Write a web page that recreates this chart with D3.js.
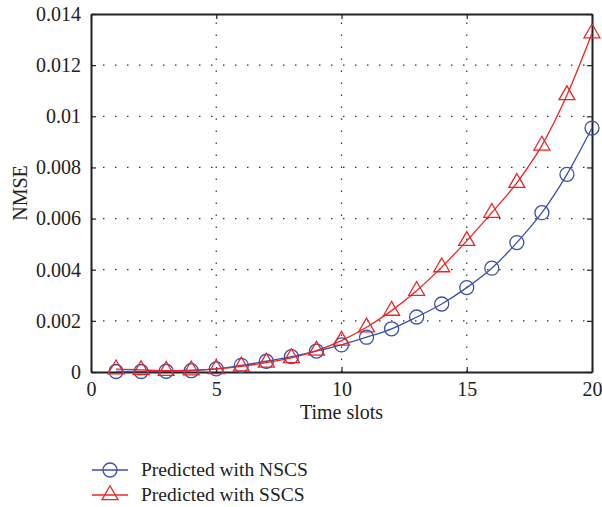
<!DOCTYPE html>
<html>
<head>
<meta charset="utf-8">
<script src="https://cdn.jsdelivr.net/npm/d3@7"></script>
<style>
  body { margin: 0; background: #fff; }
  text { font-family: "Liberation Serif", "DejaVu Serif", serif; fill: #222; }
</style>
</head>
<body>
<svg id="chart" width="602" height="507"></svg>
<script>
const timeSlots = d3.range(1, 21);
const nscs = [0.00002, 0.00002, 0.00003, 0.00005, 0.00012, 0.00026, 0.00042, 0.0006, 0.00082, 0.00106,
  0.00136, 0.00169, 0.00215, 0.00266, 0.0033, 0.00406, 0.00506, 0.00623, 0.00773, 0.00954];
const sscs = [0.00011, 0.00008, 0.00005, 0.00007, 0.00012, 0.00022, 0.00037, 0.00055, 0.00084, 0.00123,
  0.00175, 0.0024, 0.00318, 0.0041, 0.00513, 0.00623, 0.0074, 0.00886, 0.01083, 0.01325];
const xTicks = [0, 5, 10, 15, 20];
const yTicks = [0, 0.002, 0.004, 0.006, 0.008, 0.01, 0.012, 0.014];
const seriesNames = ["Predicted with NSCS", "Predicted with SSCS"];

const margin = { top: 14, right: 10, bottom: 135, left: 91 };
const svg = d3.select("#chart");
const width = 602, height = 507;

const x = d3.scaleLinear().domain([0, 20]).range([margin.left, width - margin.right]);
const y = d3.scaleLinear().domain([0, 0.014]).range([height - margin.bottom, margin.top]);

const blue = "#3b50a8";
const red = "#ee2424";

// grid
const grid = svg.append("g");
grid.selectAll(".gx").data(xTicks.slice(1, -1)).enter().append("line")
  .attr("x1", d => x(d)).attr("x2", d => x(d))
  .attr("y1", y(0)).attr("y2", y(0.014))
  .attr("stroke", "#333").attr("stroke-width", 1.2).attr("stroke-dasharray", "1.5,10.5");
grid.selectAll(".gy").data(yTicks.slice(1, -1)).enter().append("line")
  .attr("x1", x(0)).attr("x2", x(20))
  .attr("y1", d => y(d)).attr("y2", d => y(d))
  .attr("stroke", "#333").attr("stroke-width", 1.2).attr("stroke-dasharray", "1.5,10.5");

// axes with inward ticks
const fmt = d => d === 0 ? "0" : String(+d.toFixed(3));
const xAxis = svg.append("g").attr("transform", `translate(0,${y(0)})`)
  .call(d3.axisBottom(x).tickValues(xTicks).tickSizeInner(-5).tickSizeOuter(0).tickPadding(10));
const yAxis = svg.append("g").attr("transform", `translate(${x(0)},0)`)
  .call(d3.axisLeft(y).tickValues(yTicks).tickFormat(fmt).tickSizeInner(-5).tickSizeOuter(0).tickPadding(10));
const xTop = svg.append("g").attr("transform", `translate(0,${y(0.014)})`)
  .call(d3.axisTop(x).tickValues(xTicks).tickSizeInner(-5).tickSizeOuter(0).tickFormat(""));
const yRight = svg.append("g").attr("transform", `translate(${x(20)},0)`)
  .call(d3.axisRight(y).tickValues(yTicks).tickSizeInner(-5).tickSizeOuter(0).tickFormat(""));

[xAxis, yAxis, xTop, yRight].forEach(g => {
  g.select(".domain").attr("stroke", "#222").attr("stroke-width", 2);
  g.selectAll(".tick line").attr("stroke", "#222").attr("stroke-width", 1.2);
  g.selectAll("text").attr("font-size", 20).attr("fill", "#222")
    .attr("font-family", '"Liberation Serif", "DejaVu Serif", serif');
});

// labels
svg.append("text").attr("x", (x(0) + x(20)) / 2).attr("y", 419)
  .attr("text-anchor", "middle").attr("font-size", 20).text("Time slots");
svg.append("text").attr("transform", `translate(27,${(y(0) + y(0.014)) / 2}) rotate(-90)`)
  .attr("text-anchor", "middle").attr("font-size", 20).text("NMSE");

// series
const line = d3.line().curve(d3.curveMonotoneX);
const tri = d3.symbol().type(d3.symbolTriangle).size(110);

svg.append("path")
  .attr("d", line(timeSlots.map((t, i) => [x(t), y(nscs[i])])))
  .attr("fill", "none").attr("stroke", blue).attr("stroke-width", 1.3);
svg.append("path")
  .attr("d", line(timeSlots.map((t, i) => [x(t), y(sscs[i])])))
  .attr("fill", "none").attr("stroke", red).attr("stroke-width", 1.3);

svg.selectAll(".c").data(nscs).enter().append("circle")
  .attr("cx", (d, i) => x(timeSlots[i])).attr("cy", d => y(d)).attr("r", 7)
  .attr("fill", "none").attr("stroke", blue).attr("stroke-width", 1.3);
svg.selectAll(".t").data(sscs).enter().append("path")
  .attr("d", tri).attr("transform", (d, i) => `translate(${x(timeSlots[i])},${y(d)})`)
  .attr("fill", "none").attr("stroke", red).attr("stroke-width", 1.3);

// legend
const legend = svg.append("g");
const legY = [470, 495];
[blue, red].forEach((c, i) => {
  legend.append("line").attr("x1", 92).attr("x2", 128).attr("y1", legY[i]).attr("y2", legY[i])
    .attr("stroke", c).attr("stroke-width", 1.3);
  if (i === 0) {
    legend.append("circle").attr("cx", 110).attr("cy", legY[i]).attr("r", 7)
      .attr("fill", "none").attr("stroke", c).attr("stroke-width", 1.3);
  } else {
    legend.append("path").attr("d", tri).attr("transform", `translate(110,${legY[i]})`)
      .attr("fill", "none").attr("stroke", c).attr("stroke-width", 1.3);
  }
  legend.append("text").attr("x", 141).attr("y", legY[i] + 6).attr("font-size", 19.5).text(seriesNames[i]);
});
</script>
</body>
</html>
